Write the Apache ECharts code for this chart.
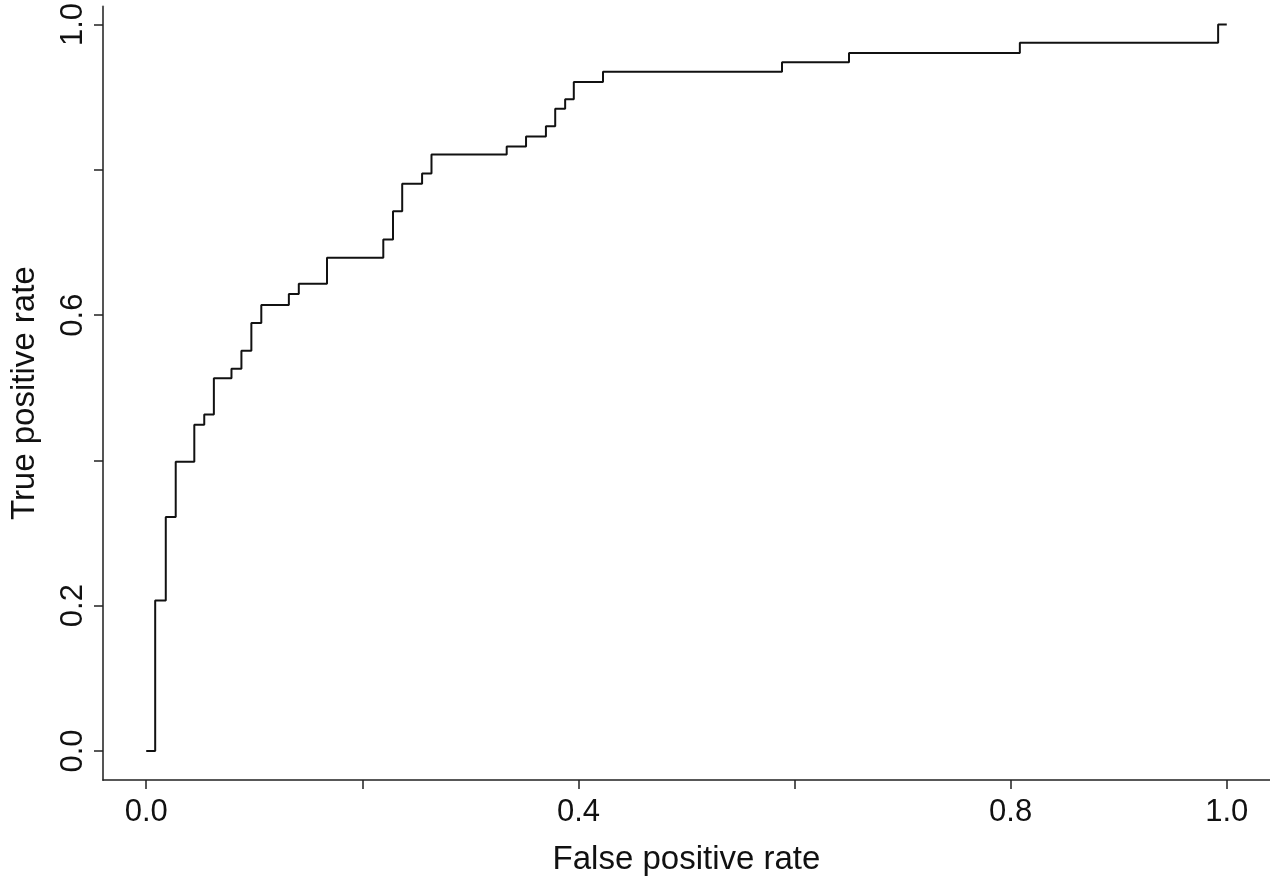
<!DOCTYPE html>
<html>
<head>
<meta charset="utf-8">
<script src="https://cdn.jsdelivr.net/npm/echarts@6/dist/echarts.min.js"></script>
<style>
html,body{margin:0;padding:0;background:#fff;}
#chart{width:1270px;height:881px;}
</style>
</head>
<body>
<div id="chart"></div>
<script>
// ROC curve step points (false positive rate, true positive rate)
const fpr = [0, 0.0083, 0.0181, 0.0273, 0.0445, 0.0537, 0.0626, 0.0789, 0.0881, 0.0973, 0.1065,
  0.1320, 0.1412, 0.1673, 0.2194, 0.2284, 0.2369, 0.2553, 0.2640, 0.3336, 0.3515, 0.3699,
  0.3785, 0.3877, 0.3957, 0.4227, 0.5884, 0.6504, 0.8085, 0.9920, 1.0];
const tpr = [0, 0.207, 0.322, 0.398, 0.449, 0.463, 0.513, 0.526, 0.551, 0.589, 0.614,
  0.629, 0.643, 0.679, 0.704, 0.743, 0.781, 0.795, 0.821, 0.832, 0.846, 0.860,
  0.884, 0.897, 0.921, 0.935, 0.948, 0.961, 0.975, 1.0, 1.0];
const xTicks = [0, 0.2, 0.4, 0.6, 0.8, 1.0];
const xLabels = [0, 0.4, 0.8, 1.0];
const yTicks = [0, 0.2, 0.4, 0.6, 0.8, 1.0];
const yLabels = [0, 0.2, 0.6, 1.0];

const data = fpr.map((x, i) => [x, tpr[i]]);
const font = 'Liberation Sans, Arial, sans-serif';

const chart = echarts.init(document.getElementById('chart'), null, {renderer: 'canvas'});
chart.setOption({
  animation: false,
  backgroundColor: '#fff',
  grid: {left: 97, right: 0, top: 3, bottom: 101, containLabel: false},
  xAxis: {
    type: 'value', min: -0.04, max: 1.04,
    name: 'False positive rate', nameLocation: 'middle', nameGap: 63,
    nameTextStyle: {fontFamily: font, fontSize: 33, color: '#111'},
    axisLine: {show: true, onZero: false, lineStyle: {color: '#222', width: 1.5}},
    axisTick: {show: true, length: 9, customValues: xTicks, lineStyle: {color: '#222', width: 1.5}},
    axisLabel: {customValues: xLabels, margin: 17, fontFamily: font, fontSize: 31, color: '#111',
      formatter: v => v.toFixed(1)},
    splitLine: {show: false}
  },
  yAxis: {
    type: 'value', min: -0.04, max: 1.025,
    name: 'True positive rate', nameLocation: 'middle', nameGap: 62, nameRotate: 90,
    nameTextStyle: {fontFamily: font, fontSize: 33, color: '#111'},
    axisLine: {show: true, onZero: false, lineStyle: {color: '#555', width: 2}},
    axisTick: {show: true, length: 9, customValues: yTicks, lineStyle: {color: '#222', width: 1.5}},
    axisLabel: {customValues: yLabels, margin: 14, rotate: 90, fontFamily: font, fontSize: 31, color: '#111',
      formatter: v => v.toFixed(1)},
    splitLine: {show: false}
  },
  series: [{
    type: 'line', data: data, step: 'end', showSymbol: false, symbol: 'none',
    lineStyle: {color: '#111', width: 2}
  }]
});
</script>
</body>
</html>
